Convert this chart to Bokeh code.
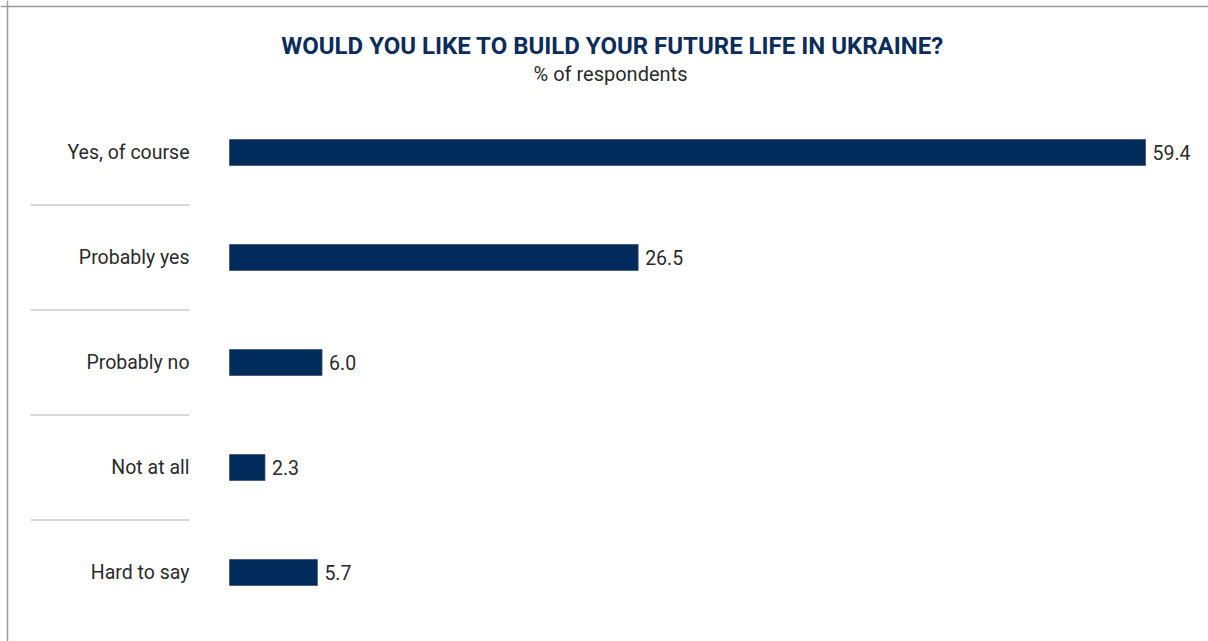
from bokeh.plotting import figure
from bokeh.models import Range1d, Span, Label, ColumnDataSource
from bokeh.core.properties import value
from bokeh.embed import file_html
from bokeh.resources import INLINE

categories = ["Yes, of course", "Probably yes", "Probably no", "Not at all", "Hard to say"]
values = [59.4, 26.5, 6.0, 2.3, 5.7]
value_labels = ["59.4", "26.5", "6.0", "2.3", "5.7"]
title_text = "WOULD YOU LIKE TO BUILD YOUR FUTURE LIFE IN UKRAINE?"
subtitle_text = "% of respondents"

W, H = 1208, 641
x0_px = 229.0
px_per_unit = 916.0 / 59.4
row0_px = 152.0
row_px = 105.0

def xd(px):
    return (px - x0_px) / px_per_unit

def yd(py):
    return (py - row0_px) / row_px

p = figure(width=W, height=H, output_backend="svg", toolbar_location=None,
           x_range=Range1d(xd(0), xd(W)), y_range=Range1d(yd(H), yd(0)),
           min_border=0)
p.axis.visible = False
p.grid.visible = False
p.outline_line_color = None
p.background_fill_color = "white"
p.border_fill_color = "white"

idx = list(range(len(categories)))
src = ColumnDataSource(dict(y=idx, v=values, cat=categories, lab=value_labels,
                            lx=[xd(189)] * len(idx)))

navy = "#002b5a"
p.hbar(y="y", left=0, right="v", height=26 / row_px, source=src,
       fill_color=navy, line_color="#3f5170", line_width=0.8)

p.text(x="v", y="y", text="lab", source=src, x_offset=7,
       text_font=value("Roboto"), text_font_size="19.5px", text_color="#2b2b2b",
       text_align="left", text_baseline="middle")

p.text(x="lx", y="y", text="cat", source=src,
       text_font=value("Roboto"), text_font_size="19.5px", text_color="#2b2b2b",
       text_align="right", text_baseline="middle")

sep_y = [i + 0.5 for i in idx[:-1]]
p.segment(x0=[xd(30)] * len(sep_y), x1=[xd(189)] * len(sep_y), y0=sep_y, y1=sep_y,
          line_color="#b0b0b0", line_width=1)

p.add_layout(Span(location=yd(6), dimension="width", line_color="#9a9a9a", line_width=1.5))
p.add_layout(Span(location=xd(7), dimension="height", line_color="#9a9a9a", line_width=1.5))

p.add_layout(Label(x=612, y=H - 45, x_units="screen", y_units="screen", text=title_text,
                   text_align="center", text_baseline="middle", text_font="Roboto",
                   text_font_style="bold", text_font_size="24px", text_color="#0c2d5a"))
p.add_layout(Label(x=610, y=H - 73, x_units="screen", y_units="screen", text=subtitle_text,
                   text_align="center", text_baseline="middle", text_font="Roboto",
                   text_font_size="20px", text_color="#2b2b2b"))

open("out.html", "w").write(file_html(p, INLINE))
